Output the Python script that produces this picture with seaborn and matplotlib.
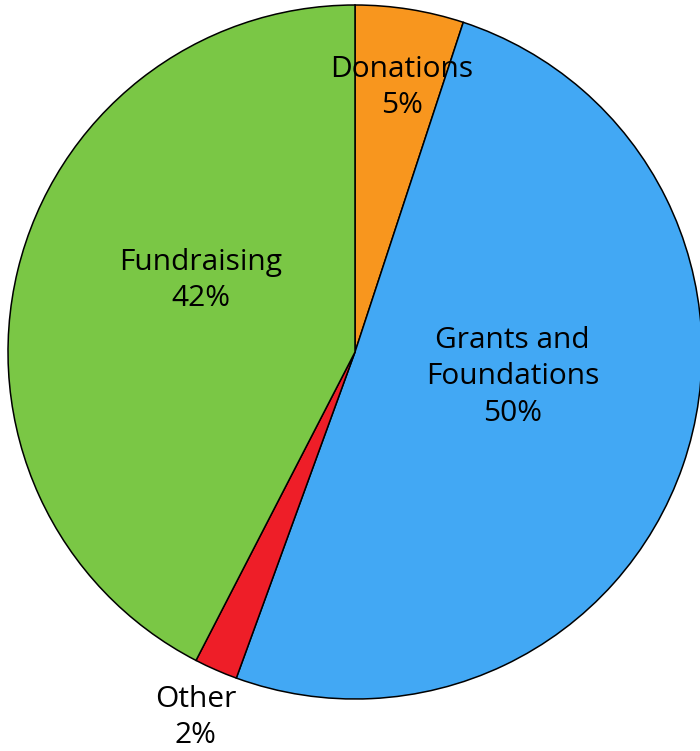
import matplotlib
matplotlib.use("Agg")
import matplotlib.pyplot as plt
import seaborn as sns
import numpy as np

# Funding sources (percent, as shown on the chart)
categories = ["Donations", "Grants and\nFoundations", "Other", "Fundraising"]
values = [5, 50, 2, 42]
colors = ["#F8961E", "#42A8F4", "#EE1E28", "#7AC745"]

sns.set_style("white")
plt.rcParams['font.family'] = ['Open Sans', 'DejaVu Sans']

fig = plt.figure(figsize=(7.0, 7.51), dpi=100)
ax = fig.add_axes([0, 0, 1, 1])

center = (355, 399)
radius = 347

wedges, _ = ax.pie(
    values,
    colors=colors,
    startangle=90,
    counterclock=False,
    center=center,
    radius=radius,
    wedgeprops=dict(edgecolor="black", linewidth=1.1),
    frame=True,
)

# label offsets from the pie centre (fraction of radius, angle from top clockwise)
label_pos = [(0.775, 10), (0.46, 99), (1.15, 203.5), (0.49, 295)]
for name, val, (frac, ang) in zip(categories, values, label_pos):
    a = np.deg2rad(ang)
    x = center[0] + frac * radius * np.sin(a)
    y = center[1] + frac * radius * np.cos(a)
    ax.text(x, y, f"{name}\n{val}%", ha="center", va="center",
            fontsize=21.5, color="black", linespacing=1.32)

ax.set_xlim(0, 700)
ax.set_ylim(0, 751)
ax.set_aspect("equal")
ax.axis("off")

fig.savefig("out.png", dpi=100)
